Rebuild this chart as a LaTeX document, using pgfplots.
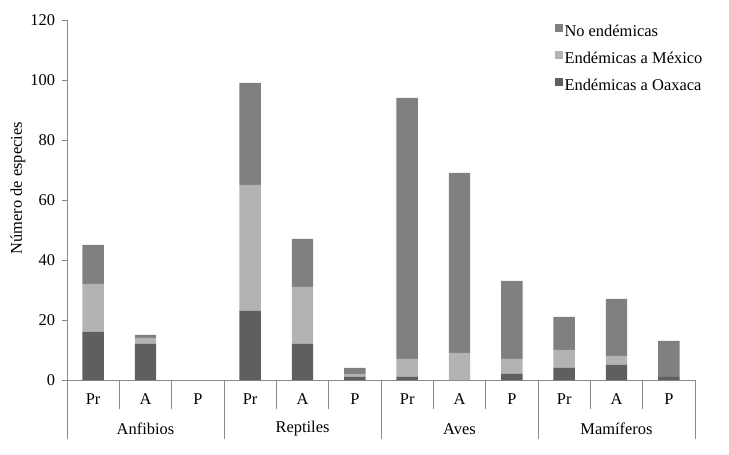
\documentclass[border=0pt]{standalone}
\usepackage{fontspec}
\setmainfont{Liberation Serif}
\usepackage{pgfplots}
\usepackage{pgfplotstable}
\pgfplotsset{compat=1.18}

\definecolor{cNo}{HTML}{808080}
\definecolor{cMex}{HTML}{B3B3B3}
\definecolor{cOax}{HTML}{5F5F5F}
\definecolor{axgray}{HTML}{888888}

% especies por categoria de riesgo: Oaxaca, Mexico, no endemicas
\pgfplotstableread{
x oax mex no
0 16 16 13
1 12 2 1
2 0 0 0
3 23 42 34
4 12 19 16
5 1 1 2
6 1 6 87
7 0 9 60
8 2 5 26
9 4 6 11
10 5 3 19
11 1 0 12
}\datatable

\begin{document}
\begin{tikzpicture}
\useasboundingbox (0,0) rectangle (729bp,455bp);
\begin{axis}[
  at={(67bp,75bp)}, anchor=south west,
  width=628bp, height=360bp, scale only axis,
  xmin=-0.5, xmax=11.5, ymin=0, ymax=120,
  ybar stacked, bar width=0.41,
  clip=false,
  font=\fontsize{16.5}{19}\selectfont,
  /pgf/number format/assume math mode=true,
  separate axis lines,
  axis x line=bottom, axis y line=left,
  axis line style={-, axgray, line width=0.8bp},
  ytick={0,20,...,120},
  ytick align=outside,
  major tick length=5bp,
  y tick style={axgray, line width=0.8bp},
  yticklabel style={xshift=-3.5bp},
  xtick={0,...,11},
  xtick align=inside,
  x tick style={draw=none},
  xticklabels={Pr,A,P,Pr,A,P,Pr,A,P,Pr,A,P},
  xticklabel style={anchor=center, yshift=-19bp},
  legend style={at={(rel axis cs:0.772,0.997)}, anchor=north west,
    draw=none, fill=none, legend cell align=left,
    row sep=10bp, nodes={inner xsep=1.5bp}},
  reverse legend,
  legend image code/.code={\fill[#1] (0bp,-0.5bp) rectangle (8bp,7.5bp);},
]
\addplot[fill=cOax, draw=none] table[x=x, y=oax] {\datatable};
\addplot[fill=cMex, draw=none] table[x=x, y=mex] {\datatable};
\addplot[fill=cNo, draw=none] table[x=x, y=no] {\datatable};
\legend{Endémicas a Oaxaca, Endémicas a México, No endémicas}

% separadores de categorias y grupos
\draw[axgray, line width=0.8bp] (axis cs:0.5,0) -- ++(0pt,-29bp);
\draw[axgray, line width=0.8bp] (axis cs:1.5,0) -- ++(0pt,-29bp);
\draw[axgray, line width=0.8bp] (axis cs:3.5,0) -- ++(0pt,-29bp);
\draw[axgray, line width=0.8bp] (axis cs:4.5,0) -- ++(0pt,-29bp);
\draw[axgray, line width=0.8bp] (axis cs:6.5,0) -- ++(0pt,-29bp);
\draw[axgray, line width=0.8bp] (axis cs:7.5,0) -- ++(0pt,-29bp);
\draw[axgray, line width=0.8bp] (axis cs:9.5,0) -- ++(0pt,-29bp);
\draw[axgray, line width=0.8bp] (axis cs:10.5,0) -- ++(0pt,-29bp);
\draw[axgray, line width=0.8bp] (axis cs:-0.5,0) -- ++(0pt,-59bp);
\draw[axgray, line width=0.8bp] (axis cs:2.5,0) -- ++(0pt,-59bp);
\draw[axgray, line width=0.8bp] (axis cs:5.5,0) -- ++(0pt,-59bp);
\draw[axgray, line width=0.8bp] (axis cs:8.5,0) -- ++(0pt,-59bp);
\draw[axgray, line width=0.8bp] (axis cs:11.5,0) -- ++(0pt,-59bp);

\node at (axis cs:1,0) [yshift=-49bp] {Anfibios};
\node at (axis cs:4,0) [yshift=-49bp] {Reptiles};
\node at (axis cs:7,0) [yshift=-49bp] {Aves};
\node at (axis cs:10,0) [yshift=-49bp] {Mamíferos};
\node at (rel axis cs:0,0.533) [xshift=-49bp, rotate=90] {Número de especies};
\end{axis}
\end{tikzpicture}
\end{document}
